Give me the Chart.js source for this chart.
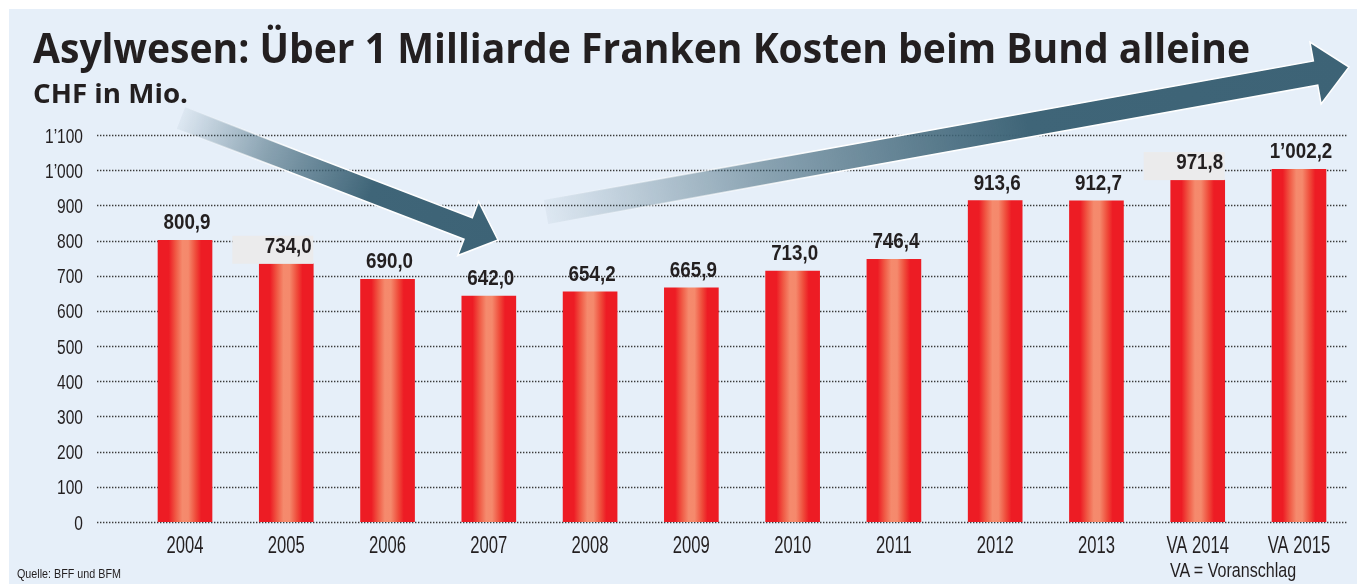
<!DOCTYPE html>
<html><head><meta charset="utf-8">
<script src="https://cdn.jsdelivr.net/npm/chart.js@4/dist/chart.umd.min.js"></script>
<style>
html,body{margin:0;padding:0;background:#fff;}
#wrap{position:relative;width:1357px;height:584px;overflow:hidden;background:#fff;}
#panel{position:absolute;left:9px;top:9px;right:0;bottom:0;background:#e6eff9;}
#c{position:absolute;left:0;top:0;}
.t{position:absolute;white-space:nowrap;transform-origin:0 0;color:#231f20;margin:0;}
</style></head>
<body>
<div id="wrap">
  <div id="panel"></div>
  <canvas id="c" width="1357" height="584"></canvas>
  <div class="t" id="title" data-x="33" data-base="63" data-w="1217" data-font="700 42px 'Open Sans'">Asylwesen: Über 1 Milliarde Franken Kosten beim Bund alleine</div>
  <div class="t" id="sub" data-x="33" data-base="103" data-w="155" data-font="700 27px 'Open Sans'">CHF in Mio.</div>
  <div class="t" id="src" data-x="17" data-base="578" data-w="104" data-font="400 13px 'Liberation Sans', Arial, sans-serif">Quelle: BFF und BFM</div>
  <div class="t" id="va" data-x="1170" data-base="577" data-w="127" data-font="400 20.5px 'Liberation Sans', Arial, sans-serif">VA = Voranschlag</div>
</div>
<script>
// ---- data ----
const categories = ['2004','2005','2006','2007','2008','2009','2010','2011','2012','2013','VA 2014','VA 2015'];
const values = [800.9, 734.0, 690.0, 642.0, 654.2, 665.9, 713.0, 746.4, 913.6, 912.7, 971.8, 1002.2];
const valueLabels = ['800,9','734,0','690,0','642,0','654,2','665,9','713,0','746,4','913,6','912,7','971,8','1’002,2'];
const yTicks = [0,100,200,300,400,500,600,700,800,900,1000,1100];
const yTickLabels = ['0','100','200','300','400','500','600','700','800','900','1’000','1’100'];
const boxedLabels = [1, 10];

const FAM = "'Liberation Sans', Arial, sans-serif";
const INK = '#231f20';
const BAR_W = 54;

// draw text horizontally condensed by factor sx
function narrowText(ctx, text, x, y, sx, align) {
  const w = ctx.measureText(text).width * sx;
  let left = x;
  if (align === 'center') left = x - w / 2;
  else if (align === 'right') left = x - w;
  ctx.save();
  ctx.translate(left, y);
  ctx.scale(sx, 1);
  ctx.textAlign = 'left';
  ctx.fillText(text, 0, 0);
  ctx.restore();
}

function barFill(c) {
  const chart = c.chart;
  if (!chart.chartArea) return '#ed1c24';
  const x = chart.scales.x.getPixelForValue(c.dataIndex);
  const g = chart.ctx.createLinearGradient(x - BAR_W/2, 0, x + BAR_W/2, 0);
  g.addColorStop(0, '#ed1c24');
  g.addColorStop(0.2, '#ed1c24');
  g.addColorStop(0.33, '#f05a45');
  g.addColorStop(0.45, '#f58a6d');
  g.addColorStop(0.56, '#f5896c');
  g.addColorStop(0.7, '#ef4b3a');
  g.addColorStop(0.8, '#ed1c24');
  g.addColorStop(1, '#ed1c24');
  return g;
}

const gridPlugin = {
  id: 'dotgrid',
  beforeDatasetsDraw(chart) {
    const {ctx, chartArea, scales} = chart;
    ctx.save();
    ctx.strokeStyle = '#3a3a3a';
    ctx.lineWidth = 1.4;
    ctx.setLineDash([1.4, 1.6]);
    scales.y.ticks.forEach(t => {
      const y = Math.round(scales.y.getPixelForValue(t.value)) + 0.5;
      ctx.beginPath();
      ctx.moveTo(chartArea.left, y);
      ctx.lineTo(chartArea.right, y);
      ctx.stroke();
    });
    ctx.restore();
  }
};

// axis tick labels, condensed, positioned by the library's scales
const tickPlugin = {
  id: 'narrowTicks',
  afterDraw(chart) {
    const {ctx, chartArea, scales} = chart;
    ctx.save();
    ctx.fillStyle = INK;
    ctx.textBaseline = 'alphabetic';
    ctx.font = "400 20.5px " + FAM;
    const sy = 38 / ctx.measureText('1’100').width;
    scales.y.ticks.forEach(t => {
      const y = scales.y.getPixelForValue(t.value);
      narrowText(ctx, yTickLabels[yTicks.indexOf(t.value)], chartArea.left - 14, y + 7.5, sy, 'right');
    });
    ctx.font = "400 23px " + FAM;
    const sxx = 37 / ctx.measureText('2004').width;
    scales.x.ticks.forEach(t => {
      const x = scales.x.getPixelForValue(t.value);
      narrowText(ctx, categories[t.value], x, chartArea.bottom + 31, sxx, 'center');
    });
    ctx.restore();
  }
};

const labelPlugin = {
  id: 'vlabels',
  afterDatasetsDraw(chart) {
    const {ctx} = chart;
    const meta = chart.getDatasetMeta(0);
    ctx.save();
    meta.data.forEach((bar, i) => {
      if (boxedLabels.includes(i)) {
        ctx.fillStyle = '#ebebec';
        const left = bar.x - BAR_W/2 - 27, right = bar.x + BAR_W/2;
        ctx.fillRect(left, bar.y - 28, right - left, 28);
      }
    });
    ctx.fillStyle = INK;
    ctx.font = "700 21.5px " + FAM;
    ctx.textBaseline = 'alphabetic';
    const sv = 47 / ctx.measureText('800,9').width;
    meta.data.forEach((bar, i) => {
      narrowText(ctx, valueLabels[i], bar.x + 2, bar.y - 11, sv, 'center');
    });
    ctx.restore();
  }
};

function drawArrow(ctx, tail, tip, shaftHalf, headHalf, headLen, fadeEnd) {
  const dx = tip[0] - tail[0], dy = tip[1] - tail[1];
  const len = Math.hypot(dx, dy);
  const ux = dx / len, uy = dy / len;
  const px = -uy, py = ux;
  const bx = tip[0] - ux * headLen, by = tip[1] - uy * headLen;
  const pts = [
    [tail[0] + px*shaftHalf, tail[1] + py*shaftHalf],
    [bx + px*shaftHalf, by + py*shaftHalf],
    [bx + px*headHalf, by + py*headHalf],
    [tip[0], tip[1]],
    [bx - px*headHalf, by - py*headHalf],
    [bx - px*shaftHalf, by - py*shaftHalf],
    [tail[0] - px*shaftHalf, tail[1] - py*shaftHalf]
  ];
  const g = ctx.createLinearGradient(tail[0], tail[1], tip[0], tip[1]);
  g.addColorStop(0, 'rgba(62,100,119,0.05)');
  g.addColorStop(fadeEnd * 0.45, 'rgba(62,100,119,0.55)');
  g.addColorStop(fadeEnd, '#3f6578');
  g.addColorStop(1, '#3d6376');
  const sg = ctx.createLinearGradient(tail[0], tail[1], tip[0], tip[1]);
  sg.addColorStop(0, 'rgba(255,255,255,0)');
  sg.addColorStop(fadeEnd * 0.6, 'rgba(255,255,255,1)');
  sg.addColorStop(1, 'rgba(255,255,255,1)');
  ctx.beginPath();
  pts.forEach((p, i) => i ? ctx.lineTo(p[0], p[1]) : ctx.moveTo(p[0], p[1]));
  ctx.closePath();
  ctx.fillStyle = g;
  ctx.fill();
  ctx.strokeStyle = sg;
  ctx.lineWidth = 1.5;
  ctx.lineJoin = 'miter';
  ctx.stroke();
}

const arrowPlugin = {
  id: 'arrows',
  afterDraw(chart) {
    const ctx = chart.ctx;
    ctx.save();
    drawArrow(ctx, [181, 118], [498, 240], 11.5, 29, 32, 0.6);
    drawArrow(ctx, [546, 212], [1349, 67], 12.3, 31.5, 34, 0.6);
    ctx.restore();
  }
};

const chart = new Chart(document.getElementById('c'), {
  type: 'bar',
  data: {
    datasets: [{
      data: values.map((v, i) => ({x: i, y: v})),
      backgroundColor: barFill,
      borderWidth: 0,
      barThickness: BAR_W
    }]
  },
  options: {
    responsive: false,
    animation: false,
    devicePixelRatio: 1,
    layout: {padding: {left: 0, right: 9, top: 135, bottom: 22}},
    plugins: {legend: {display: false}, tooltip: {enabled: false}, title: {display: false}},
    scales: {
      x: {
        type: 'linear',
        offset: false,
        min: -0.869,
        max: 11.484,
        grid: {display: false, drawTicks: false, offset: false},
        border: {display: false},
        afterBuildTicks: s => { s.ticks = categories.map((c, i) => ({value: i})); },
        afterFit: s => { s.height = 40; },
        ticks: {display: false, autoSkip: false, maxRotation: 0}
      },
      y: {
        min: 0,
        max: 1100,
        grid: {display: false, drawTicks: false},
        border: {display: false},
        afterBuildTicks: s => { s.ticks = yTicks.map(v => ({value: v})); },
        afterFit: s => { s.width = 97; },
        ticks: {display: false}
      }
    }
  },
  plugins: [gridPlugin, labelPlugin, tickPlugin, arrowPlugin]
});

// ---- position html texts on baselines and fit widths ----
function placeTexts() {
  const mc = document.createElement('canvas').getContext('2d');
  document.querySelectorAll('.t').forEach(el => {
    const font = el.dataset.font;
    el.style.font = font;
    el.style.lineHeight = '40px';
    mc.font = font;
    const m = mc.measureText(el.textContent);
    const asc = m.fontBoundingBoxAscent, desc = m.fontBoundingBoxDescent;
    const baseOff = (40 - (asc + desc)) / 2 + asc;
    el.style.left = el.dataset.x + 'px';
    el.style.top = (parseFloat(el.dataset.base) - baseOff) + 'px';
    const sx = parseFloat(el.dataset.w) / m.width;
    el.style.transform = 'scaleX(' + sx + ')';
  });
}
placeTexts();
if (document.fonts && document.fonts.ready) document.fonts.ready.then(() => { placeTexts(); chart.draw(); });
</script>
</body></html>
